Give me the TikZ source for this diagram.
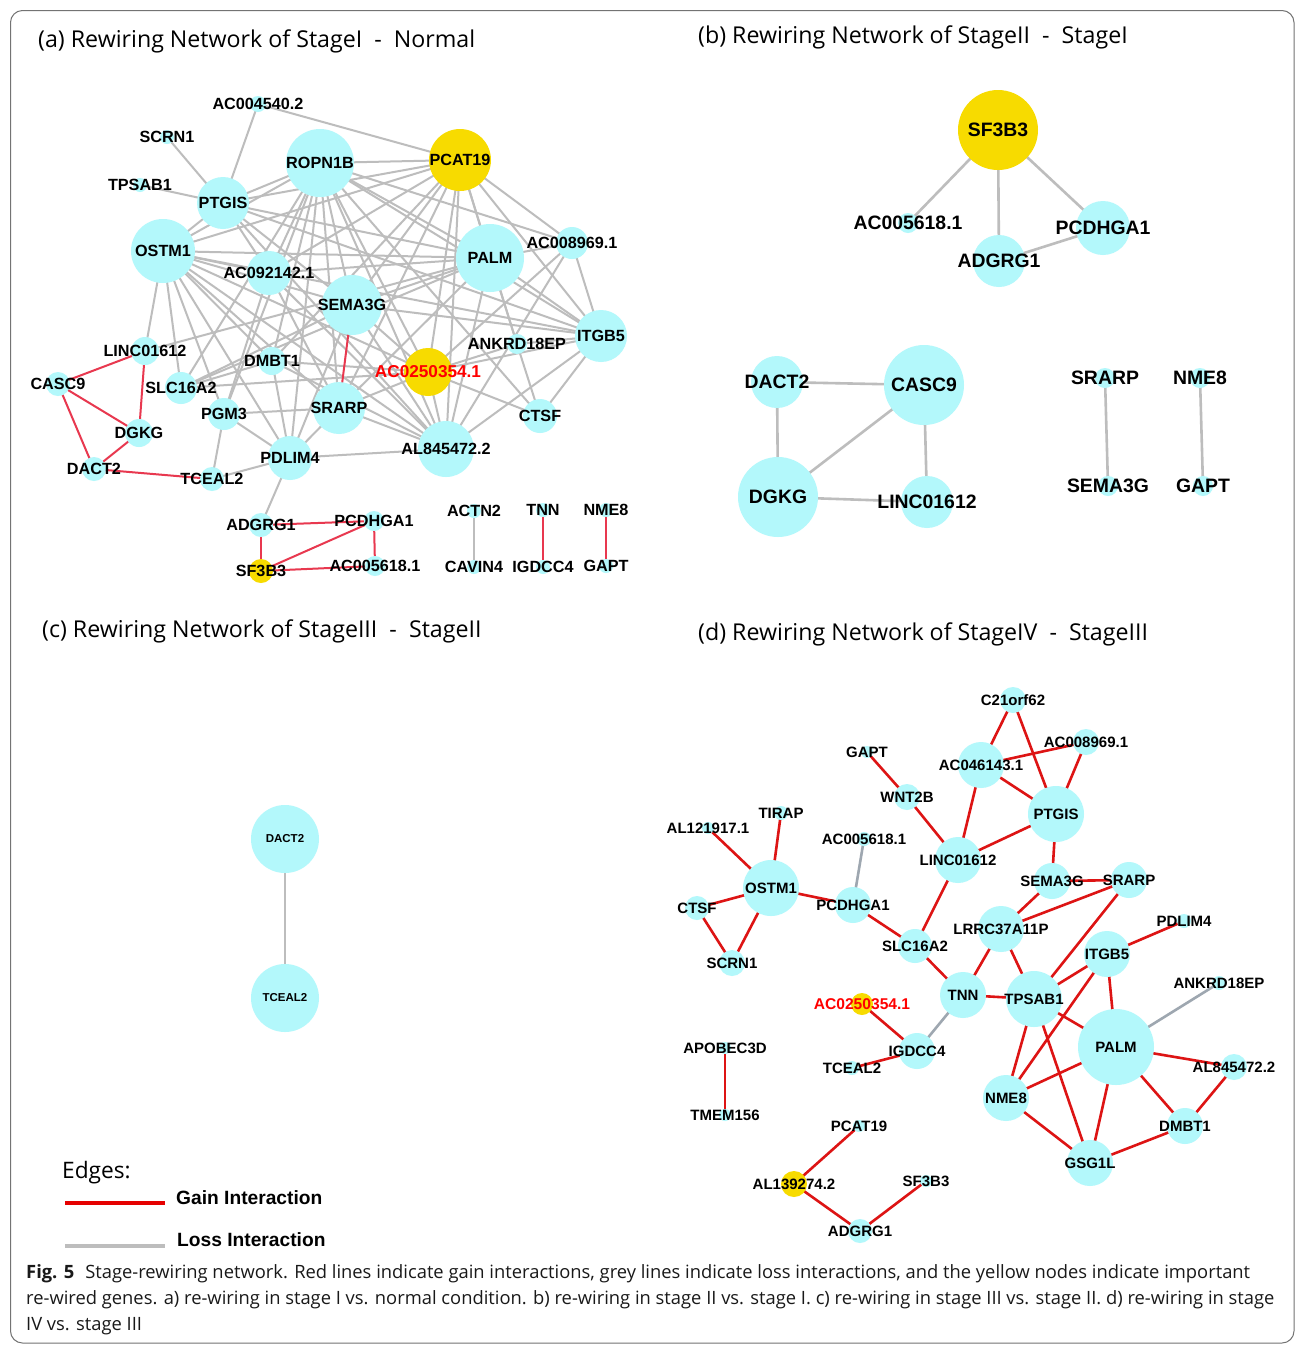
\documentclass[tikz,border=0pt]{standalone}
\usepackage{fontspec}
\setmainfont{Liberation Sans}
\newfontfamily\osfont{Open Sans}
\pgfdeclarelayer{bg}\pgfdeclarelayer{fg}\pgfsetlayers{bg,main,fg}
\definecolor{cyn}{HTML}{B3F8FB}
\definecolor{ylw}{HTML}{F7DB00}
\definecolor{gra}{HTML}{BDBDBD}
\definecolor{reda}{HTML}{E8384F}
\definecolor{redd}{HTML}{DD1414}
\definecolor{grd}{HTML}{9EA7B0}
\newcommand\GN[7]{%
 \node[circle,fill=#5,minimum size=#4*2pt,inner sep=0pt,draw=none] (#1) at (#2,#3) {};
 \begin{pgfonlayer}{fg}\node[#6] (#1-t) at (#2,#3) {#7};\end{pgfonlayer}}
\tikzset{
 la/.style={font=\fontsize{16.2}{17}\selectfont\bfseries,inner sep=0pt},
 lr/.style={font=\fontsize{17.2}{18}\selectfont\bfseries,inner sep=0pt,text=red},
 lb/.style={font=\fontsize{19.4}{20}\selectfont\bfseries,inner sep=0pt},
 lc/.style={font=\fontsize{11.5}{12}\selectfont\bfseries,inner sep=0pt},
 ld/.style={font=\fontsize{15}{16}\selectfont\bfseries,inner sep=0pt},
 ldr/.style={font=\fontsize{15.6}{16}\selectfont\bfseries,inner sep=0pt,text=red},
 ga/.style={draw=gra,line width=2pt},
 ra/.style={draw=reda,line width=2pt},
 gb/.style={draw=gra,line width=2.6pt},
 rd/.style={draw=redd,line width=2.6pt},
 gd/.style={draw=grd,line width=2.6pt},
 ttl/.style={font=\osfont\fontsize{23.2}{24}\selectfont,inner sep=0pt,anchor=west},
 captext/.style={font=\osfont\fontsize{18.35}{20}\selectfont,inner sep=0pt,anchor=base west,text=black!90},
}
\begin{document}
\begin{tikzpicture}[x=1pt,y=-1pt]
\useasboundingbox (0,0) rectangle (1295,1345);
\begin{pgfonlayer}{bg}
\fill[white] (0,0) rectangle (1295,1345);
\end{pgfonlayer}
\draw[draw=black!55,line width=1pt,rounded corners=12pt] (10.5,10.5) rectangle (1294,1343);

% titles
\node[ttl] (ta) at (38,41) {(a) Rewiring Network of StageI~~-~~Normal};
\node[ttl] (tb) at (698,37) {(b) Rewiring Network of StageII~~-~~StageI};
\node[ttl] (tc) at (42,631) {(c) Rewiring Network of StageIII~~-~~StageII};
\node[ttl] (td) at (698,634) {(d) Rewiring Network of StageIV~~-~~StageIII};

% ---------- panel (a) ----------
\GN{a-AC004540}{258}{104}{8}{cyn}{la}{AC004540.2}
\GN{a-SCRN1}{167}{137}{7}{cyn}{la}{SCRN1}
\GN{a-TPSAB1}{140}{185}{7}{cyn}{la}{TPSAB1}
\GN{a-PTGIS}{223}{203}{26}{cyn}{la}{PTGIS}
\GN{a-ROPN1B}{320}{163}{34}{cyn}{la}{ROPN1B}
\GN{a-PCAT19}{460}{160}{31}{ylw}{la}{PCAT19}
\GN{a-OSTM1}{163}{251}{32}{cyn}{la}{OSTM1}
\GN{a-AC092142}{269}{273}{22}{cyn}{la}{AC092142.1}
\GN{a-PALM}{490}{258}{34}{cyn}{la}{PALM}
\GN{a-AC008969}{572}{243}{16}{cyn}{la}{AC008969.1}
\GN{a-SEMA3G}{352}{305}{30}{cyn}{la}{SEMA3G}
\GN{a-ITGB5}{601}{336}{26}{cyn}{la}{ITGB5}
\GN{a-ANKRD18EP}{517}{344}{10}{cyn}{la}{ANKRD18EP}
\GN{a-AC0250354}{428}{372}{24}{ylw}{lr}{AC0250354.1}
\GN{a-DMBT1}{272}{361}{14}{cyn}{la}{DMBT1}
\GN{a-LINC01612}{145}{351}{14}{cyn}{la}{LINC01612}
\GN{a-CASC9}{58}{384}{12}{cyn}{la}{CASC9}
\GN{a-SLC16A2}{181}{388}{16}{cyn}{la}{SLC16A2}
\GN{a-SRARP}{339}{408}{26}{cyn}{la}{SRARP}
\GN{a-PGM3}{224}{414}{16}{cyn}{la}{PGM3}
\GN{a-DGKG}{139}{433}{14}{cyn}{la}{DGKG}
\GN{a-CTSF}{540}{416}{17}{cyn}{la}{CTSF}
\GN{a-AL845472}{446}{449}{28}{cyn}{la}{AL845472.2}
\GN{a-PDLIM4}{290}{458}{22}{cyn}{la}{PDLIM4}
\GN{a-DACT2}{94}{469}{12}{cyn}{la}{DACT2}
\GN{a-TCEAL2}{212}{479}{12}{cyn}{la}{TCEAL2}
\GN{a-ADGRG1}{261}{525}{12}{cyn}{la}{ADGRG1}
\GN{a-PCDHGA1}{374}{521}{10}{cyn}{la}{PCDHGA1}
\GN{a-SF3B3}{261}{571}{12}{ylw}{la}{SF3B3}
\GN{a-AC005618}{375}{566}{10}{cyn}{la}{AC005618.1}
\GN{a-ACTN2}{474}{511}{7}{cyn}{la}{ACTN2}
\GN{a-CAVIN4}{474}{567}{7}{cyn}{la}{CAVIN4}
\GN{a-TNN}{543}{510}{7}{cyn}{la}{TNN}
\GN{a-IGDCC4}{543}{567}{7}{cyn}{la}{IGDCC4}
\GN{a-NME8}{606}{510}{7}{cyn}{la}{NME8}
\GN{a-GAPT}{606}{566}{7}{cyn}{la}{GAPT}

\begin{pgfonlayer}{bg}
\foreach \u/\v in {AC004540/PTGIS,AC004540/PCAT19,SCRN1/PTGIS,TPSAB1/PTGIS,
 PTGIS/ROPN1B,PTGIS/OSTM1,PTGIS/PALM,PTGIS/AC092142,PTGIS/AL845472,PTGIS/ITGB5,PTGIS/PCAT19,PTGIS/SEMA3G,
 ROPN1B/PCAT19,ROPN1B/OSTM1,ROPN1B/AC092142,ROPN1B/SEMA3G,ROPN1B/SRARP,ROPN1B/PALM,ROPN1B/ITGB5,
 ROPN1B/AC0250354,ROPN1B/AL845472,ROPN1B/SLC16A2,ROPN1B/PGM3,ROPN1B/DMBT1,ROPN1B/PDLIM4,ROPN1B/CTSF,ROPN1B/AC008969,
 PCAT19/OSTM1,PCAT19/PALM,PCAT19/AC092142,PCAT19/SEMA3G,PCAT19/AC0250354,PCAT19/AL845472,PCAT19/ITGB5,
 PCAT19/AC008969,PCAT19/SRARP,PCAT19/DMBT1,PCAT19/ANKRD18EP,
 OSTM1/PALM,OSTM1/AC092142,OSTM1/SEMA3G,OSTM1/LINC01612,OSTM1/SLC16A2,OSTM1/PGM3,OSTM1/PDLIM4,OSTM1/SRARP,
 OSTM1/AC0250354,OSTM1/AL845472,OSTM1/ITGB5,OSTM1/DMBT1,
 PALM/AC008969,PALM/SEMA3G,PALM/SLC16A2,PALM/SRARP,PALM/ITGB5,PALM/AL845472,PALM/ANKRD18EP,PALM/AC092142,PALM/LINC01612,
 AC008969/ITGB5,AC008969/AC0250354,AC008969/AL845472,
 SEMA3G/ITGB5,SEMA3G/AL845472,SEMA3G/SLC16A2,SEMA3G/AC0250354,SEMA3G/PDLIM4,
 ITGB5/ANKRD18EP,ITGB5/CTSF,ITGB5/AL845472,ITGB5/AC0250354,
 ANKRD18EP/CTSF,ANKRD18EP/AC0250354,
 AC0250354/SLC16A2,AC0250354/SRARP,AC0250354/AL845472,AC0250354/CTSF,AC0250354/DMBT1,
 DMBT1/SLC16A2,DMBT1/PDLIM4,DMBT1/AL845472,
 SRARP/PGM3,SRARP/PDLIM4,SRARP/AL845472,
 PGM3/TCEAL2,PGM3/PDLIM4,PDLIM4/TCEAL2,PDLIM4/AL845472,PDLIM4/ADGRG1,
 AC092142/AL845472,AC092142/PGM3,AC092142/SRARP,ACTN2/CAVIN4}
 \draw[ga] (a-\u.center) -- (a-\v.center);
\foreach \u/\v in {SEMA3G/SRARP,LINC01612/CASC9,LINC01612/DGKG,CASC9/DGKG,CASC9/DACT2,DGKG/DACT2,
 DACT2/TCEAL2,ADGRG1/PCDHGA1,ADGRG1/SF3B3,SF3B3/PCDHGA1,SF3B3/AC005618,PCDHGA1/AC005618,TNN/IGDCC4,NME8/GAPT}
 \draw[ra] (a-\u.center) -- (a-\v.center);
\end{pgfonlayer}

% ---------- panel (b) ----------
\GN{b-SF3B3}{998}{130}{40}{ylw}{lb}{SF3B3}
\GN{b-AC005618}{908}{223}{10}{cyn}{lb}{AC005618.1}
\GN{b-ADGRG1}{999}{261}{26}{cyn}{lb}{ADGRG1}
\GN{b-PCDHGA1}{1103}{228}{27}{cyn}{lb}{PCDHGA1}
\GN{b-DACT2}{777}{382}{26}{cyn}{lb}{DACT2}
\GN{b-CASC9}{924}{385}{40}{cyn}{lb}{CASC9}
\GN{b-DGKG}{778}{497}{40}{cyn}{lb}{DGKG}
\GN{b-LINC01612}{927}{502}{26}{cyn}{lb}{LINC01612}
\GN{b-SRARP}{1105}{378}{10}{cyn}{lb}{SRARP}
\GN{b-SEMA3G}{1108}{486}{10}{cyn}{lb}{SEMA3G}
\GN{b-NME8}{1200}{378}{10}{cyn}{lb}{NME8}
\GN{b-GAPT}{1203}{486}{10}{cyn}{lb}{GAPT}
\begin{pgfonlayer}{bg}
\foreach \u/\v in {SF3B3/AC005618,SF3B3/ADGRG1,SF3B3/PCDHGA1,ADGRG1/PCDHGA1,
 DACT2/CASC9,DACT2/DGKG,DGKG/CASC9,DGKG/LINC01612,CASC9/LINC01612,SRARP/SEMA3G,NME8/GAPT}
 \draw[gb] (b-\u.center) -- (b-\v.center);
\end{pgfonlayer}

% ---------- panel (c) ----------
\GN{c-DACT2}{285}{839}{34}{cyn}{lc}{DACT2}
\GN{c-TCEAL2}{285}{998}{34}{cyn}{lc}{TCEAL2}
\begin{pgfonlayer}{bg}
\draw[gb] (c-DACT2.center) -- (c-TCEAL2.center);
\end{pgfonlayer}

% ---------- panel (d) ----------
\GN{d-C21orf62}{1013}{700}{13}{cyn}{ld}{C21orf62}
\GN{d-GAPT}{867}{752}{6}{cyn}{ld}{GAPT}
\GN{d-AC008969}{1086}{742}{13}{cyn}{ld}{AC008969.1}
\GN{d-AC046143}{981}{765}{23}{cyn}{ld}{AC046143.1}
\GN{d-WNT2B}{907}{797}{13}{cyn}{ld}{WNT2B}
\GN{d-TIRAP}{781}{813}{7}{cyn}{ld}{TIRAP}
\GN{d-AL121917}{708}{828}{6}{cyn}{ld}{AL121917.1}
\GN{d-PTGIS}{1056}{814}{28}{cyn}{ld}{PTGIS}
\GN{d-AC005618}{864}{839}{7}{cyn}{ld}{AC005618.1}
\GN{d-LINC01612}{958}{860}{23}{cyn}{ld}{LINC01612}
\GN{d-OSTM1}{771}{888}{28}{cyn}{ld}{OSTM1}
\GN{d-PCDHGA1}{853}{905}{18}{cyn}{ld}{PCDHGA1}
\GN{d-CTSF}{697}{908}{12}{cyn}{ld}{CTSF}
\GN{d-SEMA3G}{1052}{881}{18}{cyn}{ld}{SEMA3G}
\GN{d-SRARP}{1129}{880}{18}{cyn}{ld}{SRARP}
\GN{d-LRRC37A11P}{1001}{929}{23}{cyn}{ld}{LRRC37A11P}
\GN{d-PDLIM4}{1184}{921}{7}{cyn}{ld}{PDLIM4}
\GN{d-SLC16A2}{915}{946}{17}{cyn}{ld}{SLC16A2}
\GN{d-ITGB5}{1107}{954}{23}{cyn}{ld}{ITGB5}
\GN{d-SCRN1}{732}{963}{13}{cyn}{ld}{SCRN1}
\GN{d-TNN}{963}{995}{23}{cyn}{ld}{TNN}
\GN{d-TPSAB1}{1034}{999}{28}{cyn}{ld}{TPSAB1}
\GN{d-AC0250354}{862}{1004}{11}{ylw}{ldr}{AC0250354.1}
\GN{d-ANKRD18EP}{1219}{983}{7}{cyn}{ld}{ANKRD18EP}
\GN{d-IGDCC4}{917}{1051}{18}{cyn}{ld}{IGDCC4}
\GN{d-PALM}{1116}{1047}{38}{cyn}{ld}{PALM}
\GN{d-APOBEC3D}{725}{1048}{6}{cyn}{ld}{APOBEC3D}
\GN{d-TCEAL2}{852}{1068}{7}{cyn}{ld}{TCEAL2}
\GN{d-AL845472}{1234}{1067}{13}{cyn}{ld}{AL845472.2}
\GN{d-NME8}{1006}{1098}{23}{cyn}{ld}{NME8}
\GN{d-TMEM156}{725}{1115}{6}{cyn}{ld}{TMEM156}
\GN{d-DMBT1}{1185}{1126}{18}{cyn}{ld}{DMBT1}
\GN{d-PCAT19}{859}{1126}{6}{cyn}{ld}{PCAT19}
\GN{d-GSG1L}{1090}{1163}{23}{cyn}{ld}{GSG1L}
\GN{d-AL139274}{794}{1184}{13}{ylw}{ld}{AL139274.2}
\GN{d-SF3B3}{926}{1181}{6}{cyn}{ld}{SF3B3}
\GN{d-ADGRG1}{860}{1231}{12}{cyn}{ld}{ADGRG1}
\begin{pgfonlayer}{bg}
\foreach \u/\v in {C21orf62/AC046143,C21orf62/PTGIS,AC046143/AC008969,AC046143/PTGIS,AC046143/LINC01612,
 AC008969/PTGIS,GAPT/WNT2B,WNT2B/LINC01612,LINC01612/PTGIS,LINC01612/SLC16A2,PTGIS/SEMA3G,
 SEMA3G/SRARP,SEMA3G/LRRC37A11P,SRARP/LRRC37A11P,SRARP/TPSAB1,PDLIM4/ITGB5,ITGB5/PALM,ITGB5/TPSAB1,ITGB5/NME8,
 OSTM1/AL121917,OSTM1/TIRAP,OSTM1/CTSF,OSTM1/SCRN1,OSTM1/PCDHGA1,CTSF/SCRN1,PCDHGA1/SLC16A2,SLC16A2/TNN,
 LRRC37A11P/TNN,LRRC37A11P/TPSAB1,TNN/TPSAB1,AC0250354/IGDCC4,IGDCC4/TCEAL2,
 TPSAB1/PALM,TPSAB1/NME8,TPSAB1/GSG1L,PALM/NME8,PALM/GSG1L,PALM/DMBT1,PALM/AL845472,AL845472/DMBT1,
 NME8/GSG1L,GSG1L/DMBT1,APOBEC3D/TMEM156,PCAT19/AL139274,AL139274/ADGRG1,ADGRG1/SF3B3}
 \draw[rd] (d-\u.center) -- (d-\v.center);
\foreach \u/\v in {AC005618/PCDHGA1,TNN/IGDCC4,PALM/ANKRD18EP}
 \draw[gd] (d-\u.center) -- (d-\v.center);
\end{pgfonlayer}

% ---------- legend ----------
\node[font=\osfont\fontsize{22.7}{23}\selectfont,inner sep=0pt,anchor=west] (edg) at (62,1173) {Edges:};
\coordinate (g1) at (65,1203); \coordinate (g2) at (165,1203);
\coordinate (l1) at (65,1246); \coordinate (l2) at (165,1246);
\draw[draw=red!90!black,line width=4pt] (g1) -- (g2);
\draw[draw=gra,line width=4pt] (l1) -- (l2);
\node[font=\fontsize{19.2}{20}\selectfont\bfseries,inner sep=0pt,anchor=west] (gain) at (176,1198) {Gain Interaction};
\node[font=\fontsize{19.2}{20}\selectfont\bfseries,inner sep=0pt,anchor=west] (loss) at (177,1240) {Loss Interaction};

% ---------- caption ----------
\node[captext] (c1) at (26,1278) {{\bfseries Fig. 5}\hspace{0.6em}Stage-rewiring network. Red lines indicate gain interactions, grey lines indicate loss interactions, and the yellow nodes indicate important};
\node[captext] (c2) at (26,1304) {re-wired genes. a) re-wiring in stage I vs. normal condition. b) re-wiring in stage II vs. stage I. c) re-wiring in stage III vs. stage II. d) re-wiring in stage};
\node[captext] (c3) at (26,1330) {IV vs. stage III};
\end{tikzpicture}
\end{document}
